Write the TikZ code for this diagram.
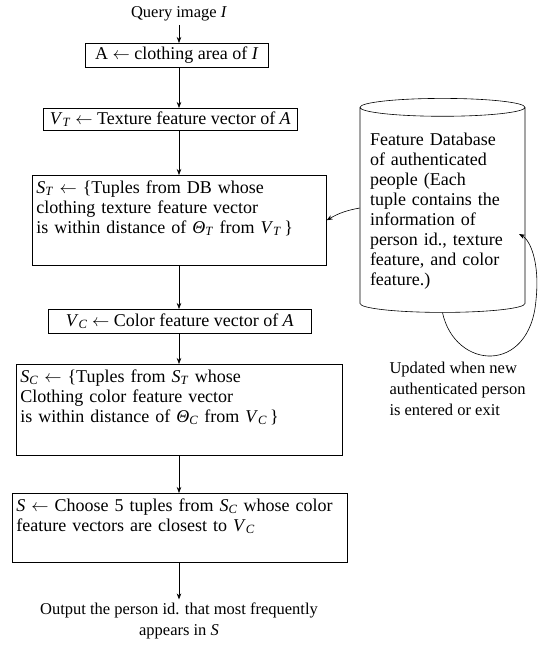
\documentclass[tikz,border=0pt]{standalone}
\usepackage{fontspec}
\setmainfont{Liberation Serif}
\usepackage{tikz}
\usetikzlibrary{arrows.meta,shapes.geometric}

\newcommand{\vsub}[2]{\textit{#1}\textsubscript{\textit{#2}}}

\begin{document}
\begin{tikzpicture}[x=1pt, y=-1pt, font=\fontsize{18}{20}\selectfont,
  stepbox/.style={draw, line width=0.6pt, anchor=north west, inner sep=0pt},
  listbox/.style={stepbox, align=left, inner xsep=4pt, text height=18pt},
  flow/.style={-{Stealth[length=6pt, width=4.5pt]}, line width=0.6pt},
  loose/.style={font=\fontsize{16.5}{21}\selectfont}]
\useasboundingbox (0,0) rectangle (548,646);
% Query and feature steps
\node[loose] (qry) at (179,14) {Query image \textit{I}};
\node[stepbox, minimum width=183pt, minimum height=24pt] (area) at (85,43)
  {A $\leftarrow$ clothing area of \textit{I}};
\node[stepbox, minimum width=254pt, minimum height=22pt] (vt) at (43,108)
  {\vsub{V}{T} $\leftarrow$ Texture feature vector of \textit{A}};
\node[listbox, text width=286pt, text depth=72pt] (st) at (32,175)
  {\vsub{S}{T} $\leftarrow$ \{Tuples from DB whose\\
   clothing texture feature vector\\
   is within distance of \vsub{Θ}{T} from \vsub{V}{T}\,\}};
\node[stepbox, minimum width=263pt, minimum height=24pt] (vc) at (48,309)
  {\vsub{V}{C} $\leftarrow$ Color feature vector of \textit{A}};
\node[listbox, text width=318pt, text depth=73pt] (sc) at (16,364)
  {\vsub{S}{C} $\leftarrow$ \{Tuples from \vsub{S}{T} whose\\
   Clothing color feature vector\\
   is within distance of \vsub{Θ}{C} from \vsub{V}{C}\,\}};
\node[listbox, text width=327pt, text depth=51pt] (pick) at (12,493)
  {\textit{S} $\leftarrow$ Choose 5 tuples from \vsub{S}{C} whose color\\
   feature vectors are closest to \vsub{V}{C}};
\node[loose, align=center] (out) at (179,621)
  {Output the person id. that most frequently\\appears in \textit{S}};
% Main flow
\draw[flow] (qry.south) -- (qry.south |- area.north);
\draw[flow] (area.south -| qry.south) -- (vt.north -| qry.south);
\draw[flow] (vt.south -| qry.south) -- (st.north -| qry.south);
\draw[flow] (st.south -| qry.south) -- (vc.north -| qry.south);
\draw[flow] (vc.south -| qry.south) -- (sc.north -| qry.south);
\draw[flow] (sc.south -| qry.south) -- (pick.north -| qry.south);
\draw[flow] (pick.south -| qry.south) -- (out.north -| qry.south);
% Database
\node[cylinder, shape border rotate=90, aspect=0.12, draw, line width=0.6pt,
  minimum width=165pt, minimum height=214pt, text width=145pt, align=left,
  inner sep=2pt] (db) at (442.5,211)
  {Feature Database\\of authenticated\\people (Each\\tuple contains the\\
   information of\\person id., texture\\feature, and color\\feature.)};
\draw[flow] ([yshift=3pt]db.west) to[bend right=10] (st.east);
% Update loop
\coordinate (dbtip) at (519,234);
\draw[flow] (db.south) .. controls (455,370) and (530,375) .. (536,300)
  .. controls (540,262) and (530,240) .. (dbtip);
\node[loose, align=left, anchor=west] (upd) at (386,389)
  {Updated when new\\authenticated person\\is entered or exit};
\end{tikzpicture}
\end{document}
